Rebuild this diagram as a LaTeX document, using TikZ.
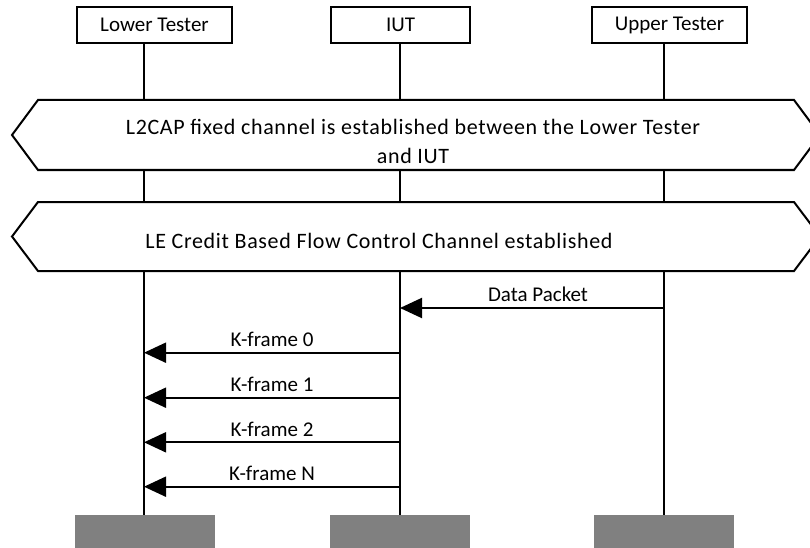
\documentclass[tikz,border=0pt]{standalone}
\usepackage{fontspec}
\setmainfont{Carlito}
\usetikzlibrary{arrows.meta}
\definecolor{bargray}{RGB}{128,128,128}
\begin{document}
\begin{tikzpicture}[x=1pt,y=-1pt,
  hdr/.style={draw, line width=2pt, fill=white, inner sep=0pt, font=\fontsize{21}{25}\selectfont},
  life/.style={line width=2pt},
  banner/.style={draw, line width=2pt, fill=white, line join=miter},
  bantext/.style={align=center, inner sep=0pt, font=\fontsize{22}{29.3}\selectfont\addfontfeature{LetterSpace=3}},
  msg/.style={line width=2pt, -{Triangle[length=22pt,width=20pt]}},
  lbl/.style={font=\fontsize{21}{25}\selectfont, above, inner sep=5pt},
  bar/.style={fill=bargray, draw=none, inner sep=0pt}
]
\useasboundingbox (0,0) rectangle (810,548);
\clip (0,0) rectangle (810,548);

% header boxes
\node[hdr, minimum width=155pt, minimum height=36pt] (lt) at (154.5,25) {Lower Tester};
\node[hdr, minimum width=139pt, minimum height=36pt] (iut) at (400.5,25) {IUT};
\node[hdr, minimum width=155pt, minimum height=36pt] (ut) at (669.5,25) {Upper Tester};

% bottom bars
\node[bar, minimum width=140pt, minimum height=34pt] (ltEnd) at (145,532) {};
\node[bar, minimum width=140pt, minimum height=34pt] (iutEnd) at (400,532) {};
\node[bar, minimum width=140pt, minimum height=34pt] (utEnd) at (664,532) {};

% lifelines (start at the bottom edge of each header box)
\coordinate (ltTop) at (144,44);
\coordinate (iutTop) at (400,44);
\coordinate (utTop) at (664,44);
\draw[life] (ltTop) -- (ltTop |- ltEnd.north);
\draw[life] (iutTop) -- (iutTop |- iutEnd.north);
\draw[life] (utTop) -- (utTop |- utEnd.north);

% banners
\draw[banner] (38,100) -- (794,100) -- (820,135) -- (794,170) -- (38,170) -- (12,135) -- cycle;
\node[bantext] (b1) at (413,141.3) {L2CAP fixed channel is established between the Lower Tester\\and IUT};
\draw[banner] (38,202) -- (794,202) -- (820,236.5) -- (794,271) -- (38,271) -- (12,236.5) -- cycle;
\node[bantext] (b2) at (379,241) {LE Credit Based Flow Control Channel established};

% message points
\coordinate (ut1) at (664,308);
\coordinate (iut1) at (400,308);
\coordinate (iut2) at (400,352.7);
\coordinate (lt2) at (144,352.7);
\coordinate (iut3) at (400,397.7);
\coordinate (lt3) at (144,397.7);
\coordinate (iut4) at (400,442.3);
\coordinate (lt4) at (144,442.3);
\coordinate (iut5) at (400,486.7);
\coordinate (lt5) at (144,486.7);

\draw[msg] (ut1) -- node[lbl, xshift=6pt] {Data Packet} (iut1);
\draw[msg] (iut2) -- node[lbl] {K-frame 0} (lt2);
\draw[msg] (iut3) -- node[lbl] {K-frame 1} (lt3);
\draw[msg] (iut4) -- node[lbl] {K-frame 2} (lt4);
\draw[msg] (iut5) -- node[lbl] {K-frame N} (lt5);
\end{tikzpicture}
\end{document}
